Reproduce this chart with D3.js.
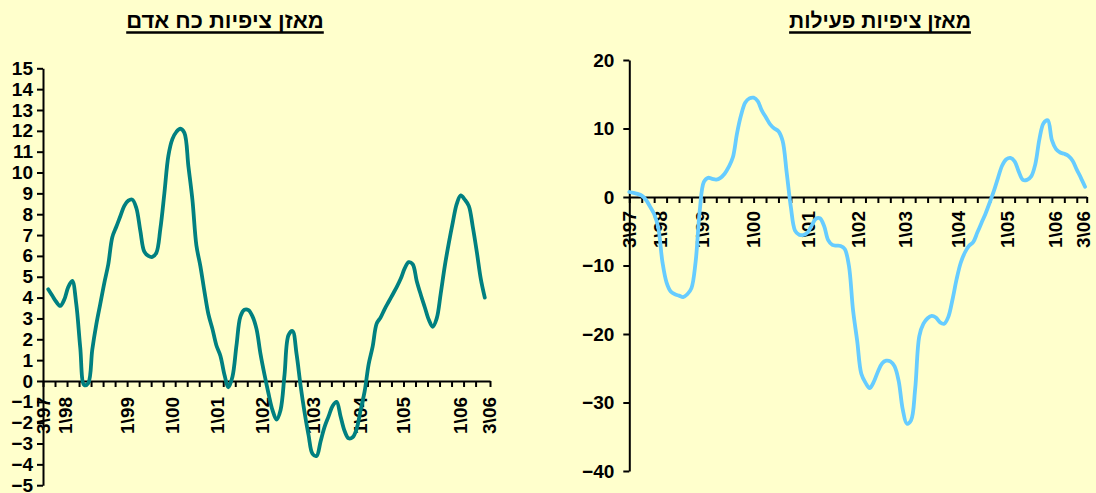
<!DOCTYPE html>
<html><head><meta charset="utf-8">
<script src="https://cdn.jsdelivr.net/npm/d3@7"></script>
<style>
html,body{margin:0;padding:0;background:#FFFFCC;}
svg{display:block;}
text{font-family:"Liberation Sans",Arial,sans-serif;font-weight:bold;fill:#000;}
</style></head><body>
<svg id="c" width="1096" height="493"></svg>
<script>
// ---- data ----
const titleLeft = "מאזן  ציפיות כח אדם";
const titleRight = "מאזן ציפיות פעילות";
const xTickLabels = ["3\\97","1\\98","1\\99","1\\00","1\\01","1\\02","1\\03","1\\04","1\\05","1\\06","3\\06"];
const labelPosLeft  = [-1.3, 4.2, 19.6, 30.9, 42.1, 53.4, 66.1, 77.8, 88.6, 102.8, 110.2];
const labelPosRight = [0, 7.4, 17.5, 29.9, 43.1, 55.3, 66.7, 79.4, 91.1, 102.8, 109.6];
const yTicksLeft = d3.range(-5, 16, 1);
const yTicksRight = [-40,-30,-20,-10,0,10,20];
// manpower expectations balance (index 0..109)
const manpower = [4.4,4.1,3.8,3.6,3.9,4.5,4.8,3.7,1.6,-0.2,
  -0.1,1.5,2.7,3.7,4.7,5.6,6.9,7.4,7.9,8.4,
  8.65,8.7,8.3,7.2,6.2,6.0,5.95,6.15,7.3,9.0,
  10.8,11.6,11.95,12.1,11.9,10.3,8.7,6.5,5.5,4.3,
  3.2,2.5,1.7,1.2,0.3,-0.3,0.2,1.7,3.1,3.42,
  3.4,3.1,2.5,1.3,0.3,-0.6,-1.4,-1.85,-1.4,0.3,
  2.2,2.4,1.3,-0.2,-1.5,-2.6,-3.5,-3.6,-2.9,-2.2,
  -1.7,-1.2,-1.0,-1.7,-2.4,-2.75,-2.7,-2.3,-1.4,-0.5,
  0.8,1.65,2.75,3.05,3.45,3.8,4.15,4.5,4.9,5.4,
  5.7,5.6,4.8,4.15,3.55,2.95,2.6,3.0,4.2,5.5,
  6.6,7.6,8.5,8.9,8.7,8.4,7.4,6.2,4.9,4.0];
// activity expectations balance (index 0..110)
const activity = [0.73,0.6,0.45,0.2,-0.4,-1.4,-2.5,-4.5,-9.5,-12.5,
  -13.8,-14.2,-14.4,-14.6,-14.2,-13.3,-9.5,-2.0,2.2,2.8,
  2.65,2.55,2.8,3.4,4.4,5.8,9.3,12.0,13.8,14.4,
  14.5,14.0,12.6,11.6,10.6,10.0,9.6,8.2,3.5,-1.5,
  -4.9,-5.5,-5.55,-5.2,-4.2,-3.2,-3.1,-4.2,-6.3,-7.0,
  -7.1,-7.15,-7.6,-10.0,-16.5,-21.0,-25.8,-27.1,-27.9,-27.0,
  -25.5,-24.3,-23.9,-24.0,-24.7,-26.8,-31.0,-33.1,-32.6,-28.0,
  -20.3,-18.5,-17.7,-17.35,-17.6,-18.3,-18.5,-17.5,-15.0,-12.0,
  -9.6,-8.1,-7.1,-6.6,-5.2,-3.8,-2.4,-0.8,0.9,2.8,
  4.6,5.5,5.7,5.2,3.7,2.5,2.5,3.0,4.8,8.5,
  10.8,11.2,8.3,7.0,6.5,6.3,6.0,5.3,4.0,2.8,1.5];

const svg = d3.select("#c");
const FS = "19px";

function drawChart(cfg){
  const g = svg.append("g");
  const x = d3.scaleLinear().domain(cfg.xDomain).range(cfg.xRange);
  const y = d3.scaleLinear().domain(cfg.yDomain).range(cfg.yRange);
  // title
  const t = g.append("text").attr("x", cfg.titleX).attr("y", 28)
    .attr("text-anchor","middle").attr("direction","rtl")
    .style("font-size", cfg.titleSize).text(cfg.title);
  const bb = t.node().getBBox();
  g.append("line").attr("x1", bb.x).attr("x2", bb.x+bb.width)
    .attr("y1", 32.5).attr("y2", 32.5).attr("stroke","#000").attr("stroke-width",2.6);
  // y axis
  const ya = g.append("g").attr("transform",`translate(${cfg.xRange[0]},0)`)
    .call(d3.axisLeft(y).tickValues(cfg.yTicks).tickSize(6).tickPadding(cfg.yPad).tickSizeOuter(0).tickFormat(d3.format("d")));
  ya.selectAll("path,line").attr("stroke","#000").attr("stroke-width",2);
  ya.selectAll("text").style("font-size",FS).style("font-family","'Liberation Sans',Arial,sans-serif").style("font-weight","bold").attr("fill","#000");
  // x axis at 0
  const [d0,d1] = cfg.xDomain;
  const tv = d3.range(d0, d1-1, 3).concat([d1]);
  const xa = g.append("g").attr("transform",`translate(0,${y(0)})`)
    .call(d3.axisBottom(x).tickValues(tv).tickSize(6).tickSizeOuter(0).tickFormat(""));
  xa.selectAll("path,line").attr("stroke","#000").attr("stroke-width",2);
  // x labels
  g.selectAll(".xl").data(xTickLabels).join("text").attr("class","xl")
    .attr("transform",(d,i)=>`translate(${x(cfg.labelPos[i])},${y(0)+cfg.labelOff}) rotate(-90)`)
    .attr("text-anchor","end").attr("dy","0.36em")
    .style("font-size",FS).text(d=>d);
  // line
  const line = d3.line().x((d,i)=>x(i)).y(d=>y(d)).curve(d3.curveCatmullRom.alpha(0.5));
  g.append("path").datum(cfg.values).attr("d", line).attr("fill","none")
    .attr("stroke", cfg.color).attr("stroke-width",3.8).attr("stroke-linejoin","round").attr("stroke-linecap","round");
}

drawChart({title:titleLeft, titleX:225, titleSize:"22px", xDomain:[-1.3,110.3], xRange:[43,490],
  yDomain:[-5,15], yRange:[485.2,68.3], yTicks:yTicksLeft, yPad:4,
  labelPos:labelPosLeft, labelOff:16, values:manpower, color:"#008080"});
drawChart({title:titleRight, titleX:880, titleSize:"21px", xDomain:[0,110.4], xRange:[629.3,1086.7],
  yDomain:[-40,20], yRange:[471,60], yTicks:yTicksRight, yPad:9,
  labelPos:labelPosRight, labelOff:14, values:activity, color:"#66CCFF"});
</script>
</body></html>
